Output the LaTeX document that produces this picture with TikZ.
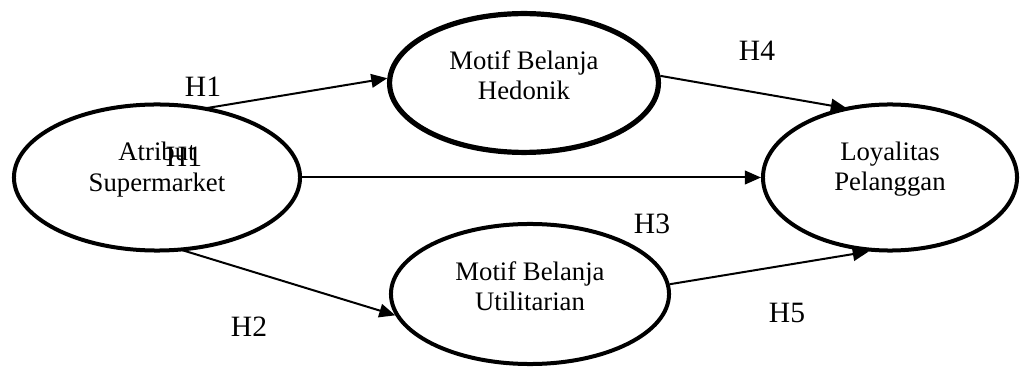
\documentclass[tikz,border=0pt]{standalone}
\usepackage{fontspec}
\setmainfont{Liberation Serif}
\usetikzlibrary{shapes.geometric, arrows.meta}

\tikzset{
  konstruk/.style={draw, ellipse, line width=0.1cm, inner sep=0pt},
  panah/.style={line width=0.05cm, -{Triangle[length=0.4cm,width=0.34cm]}},
  hipotesis/.style={font=\fontsize{21}{24}\selectfont, inner sep=0pt}
}

\begin{document}
\begin{tikzpicture}[x=0.025cm, y=-0.025cm, every label/.style={align=center, yshift=0.2cm, font=\fontsize{19}{21.5}\selectfont}]
        \useasboundingbox (0,0) rectangle (1021,367);
        % Nodes
        \node (atribut) [konstruk, minimum width=7.15cm, minimum height=3.65cm, label=center:{Atribut\\Supermarket}] at (157,177.5) {};
        \node (hedonik) [konstruk, line width=0.13cm, minimum width=6.72cm, minimum height=3.47cm, label=center:{Motif Belanja\\Hedonik}] at (524,83) {};
        \node (utilitarian) [konstruk, minimum width=6.95cm, minimum height=3.5cm, label=center:{Motif Belanja\\Utilitarian}] at (530,294) {};
        \node (loyalitas) [konstruk, minimum width=6.35cm, minimum height=3.65cm, label=center:{Loyalitas\\Pelanggan}] at (890,177.5) {};

        % Labels
        \node (h1) [hipotesis] at (203,87) {H1};
        \node (h1b) [hipotesis] at (184,157) {H1};
        \node (h2) [hipotesis] at (249,327) {H2};
        \node (h3) [hipotesis] at (652,224) {H3};
        \node (h4) [hipotesis] at (757,51) {H4};
        \node (h5) [hipotesis] at (787,313) {H5};

        % Arrows
        \draw[panah, shorten <=-0.1cm] (atribut.53) -- (hedonik.178);
        \draw[panah, shorten >=-0.1cm] (hedonik.3) -- (loyalitas.124);
        \draw[panah] (atribut.east) -- (loyalitas.west);
        \draw[panah, shorten <=-0.15cm] (atribut.-69) -- (utilitarian.189);
        \draw[panah] (utilitarian.4) -- (loyalitas.254);
    \end{tikzpicture}
\end{document}
